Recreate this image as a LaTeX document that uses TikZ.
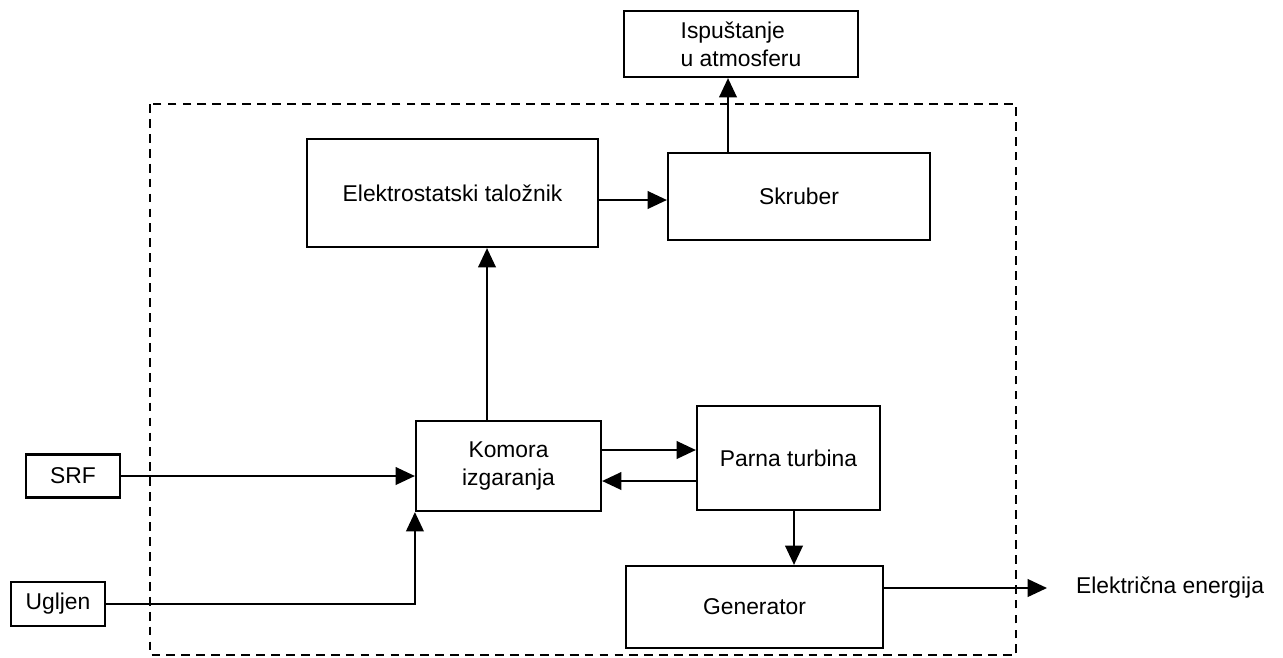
\documentclass[tikz,border=0pt]{standalone}
\usepackage{fontspec}
\setmainfont{Liberation Sans}
\usepackage{tikz}
\usetikzlibrary{arrows.meta, calc}

\begin{document}
\begin{tikzpicture}[x = 0.02cm, y = -0.02cm, line width = 1.25pt,
    >={Triangle[length=11pt, width=10pt]}]
\useasboundingbox (0, 0) rectangle (1283, 657);
\begin{scope}[every node/.style={draw, font=\fontsize{13}{16}\selectfont}]

    % plant boundary
    \draw [dash pattern=on 5pt off 3.5pt] (150, 104) rectangle (1016, 655);
    % inputs
    \node (SRF) [minimum width=1.88cm, minimum height=0.86cm] at (73, 476) {SRF};
    \node (Ugljen) [minimum width=1.88cm, minimum height=0.88cm] at (58, 604) {Ugljen};
    % boiler
    \node (Komora) [minimum width=3.7cm, minimum height=1.8cm, align=center] at (508.5, 466) {Komora\\izgaranja};
    \node (Turbina) [minimum width=3.66cm, minimum height=2.08cm] at (788.5, 458) {Parna turbina};
    \node (Gen) [minimum width=5.14cm, minimum height=1.64cm] at (754.5, 607) {Generator};
    % flue gas
    \node (ET) [minimum width=5.82cm, minimum height=2.16cm] at (452.5, 193) {Elektrostatski taložnik};
    \node (Skruber) [minimum width=5.24cm, minimum height=1.74cm] at (799, 196.5) {Skruber};
    \node (Isp) [minimum width=4.68cm, minimum height=1.32cm, align=left] at (741, 44) {Ispuštanje\\u atmosferu};
    % output
    \node (EE) [draw=none, anchor=west, inner sep=0pt] at (1075, 588) {Električna energija};
    \coordinate (EE_in) at (1047, 588);
\end{scope}

\begin{scope}[every edge/.style={draw=black, line width=1.25pt}]
    \path [->] (SRF) edge (SRF -| Komora.west);
    \draw [->] (Ugljen.east) -| (Komora.south west);
    % Layer
    \path [->] (Komora.north -| 487, 0) edge (ET.south -| 487, 0);
    \path [->] (ET.east |- 0, 200) edge (Skruber.west |- 0, 200);
    \path [->] (Skruber.north -| 728, 0) edge (Isp.south -| 728, 0);
    % Layer
    \path [->] (Komora.east |- 0, 450) edge (Turbina.west |- 0, 450);
    \path [->] (Turbina.west |- 0, 481) edge (Komora.east |- 0, 481);
    \path [->] (Turbina.south -| 794, 0) edge (Gen.north -| 794, 0);
    % Layer
    \path [->] (Gen.east |- EE_in) edge (EE_in);
\end{scope}
\end{tikzpicture}
\end{document}
